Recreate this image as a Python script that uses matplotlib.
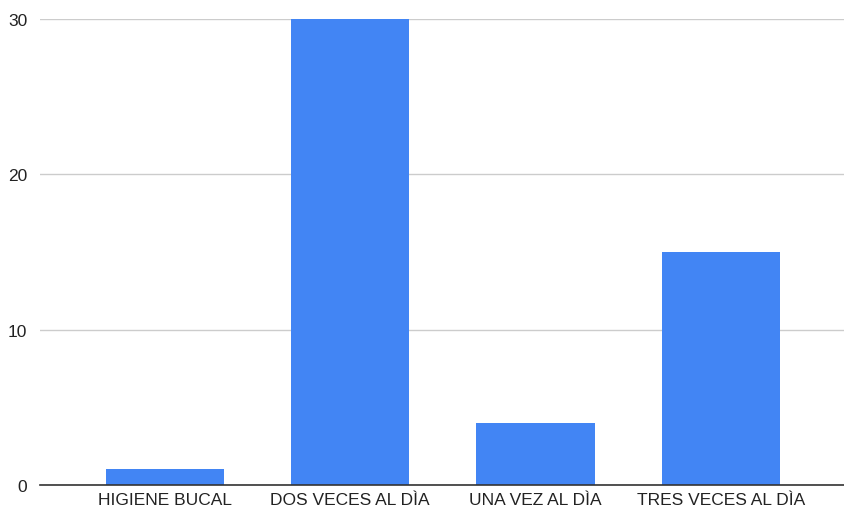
import matplotlib.pyplot as plt

# data
categories = ["HIGIENE BUCAL", "DOS VECES AL DÌA", "UNA VEZ AL DÌA", "TRES VECES AL DÌA"]
values = [1, 30, 4, 15]
y_ticks = [0, 10, 20, 30]

plt.rcParams['font.family'] = ['Liberation Sans', 'DejaVu Sans']

fig = plt.figure(figsize=(8.45, 5.1), dpi=100)
ax = fig.add_axes([0.047, 0.047, 0.953, 0.914])

x = list(range(len(categories)))
ax.bar(x, values, width=0.64, color="#4285F4", zorder=3)

ax.set_xlim(-0.675, len(categories) - 1 + 0.67)
ax.set_ylim(0, 30)
ax.set_yticks(y_ticks)
ax.set_xticks(x)
ax.set_xticklabels(categories)

# gridlines like google sheets
ax.grid(axis="y", color="#cccccc", linewidth=1, zorder=0)
for side in ["top", "right", "left"]:
    ax.spines[side].set_visible(False)
ax.spines["bottom"].set_color("#333333")
ax.spines["bottom"].set_linewidth(1.2)
ax.spines["bottom"].set_zorder(4)

ax.tick_params(axis="both", length=0, labelsize=12.5, colors="#222222")
ax.tick_params(axis="y", pad=9)
ax.tick_params(axis="x", pad=5)

fig.savefig("out.png", dpi=100)
